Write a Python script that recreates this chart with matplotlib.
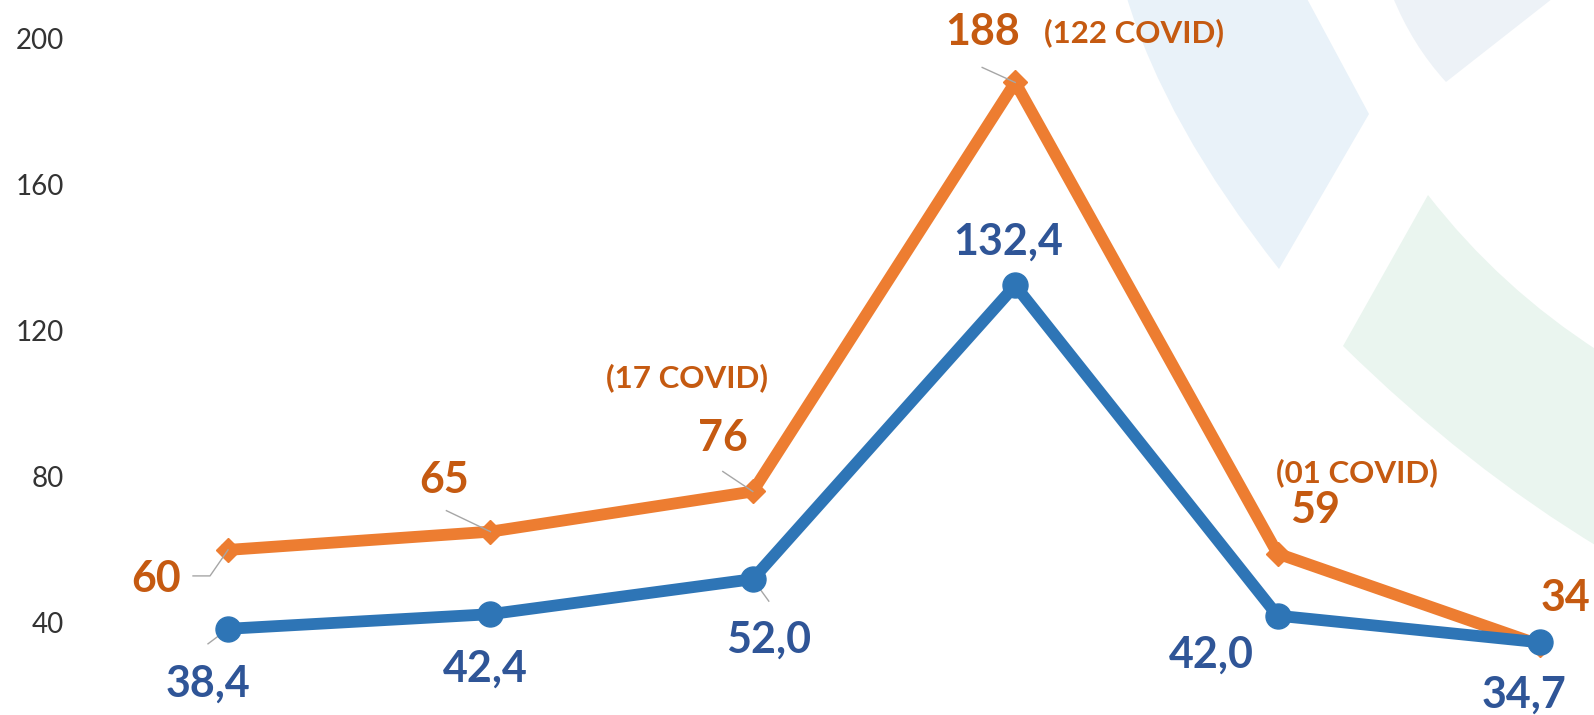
import matplotlib.pyplot as plt
from matplotlib.path import Path
from matplotlib.patches import PathPatch
from matplotlib.transforms import IdentityTransform

# values
categories = [0, 1, 2, 3, 4, 5]
total = [60, 65, 76, 188, 59, 34]
rate = [38.4, 42.4, 52.0, 132.4, 42.0, 34.7]
total_labels = ["60", "65", "76", "188", "59", "34"]
rate_labels = ["38,4", "42,4", "52,0", "132,4", "42,0", "34,7"]
covid_notes = {2: "(17 COVID)", 3: "(122 COVID)", 4: "(01 COVID)"}
yticks = [40, 80, 120, 160, 200]

orange = "#ED7D31"
orange_txt = "#C55A11"
blue = "#2E75B6"
blue_txt = "#2F5597"
leader = "#A6A6A6"

plt.rcParams['font.family'] = ['Lato', 'DejaVu Sans']

W, H = 1594, 715
fig = plt.figure(figsize=(W / 100, H / 100), dpi=100)
ax = fig.add_axes([0, 0, 1, 1])
ax.set_facecolor('none')
ax.set_xlim(-0.869, 5.206)
ax.set_ylim(14.8, 210.57)


def px(pts):
    return [(x / W, 1 - y / H) for x, y in pts]


# light background shapes (slide decoration)
shapes = [
    ([(1126, -5), (1165, 125), (1279, 269), (1369, 114), (1305, -5), (1126, -5)],
     [Path.MOVETO, Path.CURVE3, Path.CURVE3, Path.LINETO, Path.LINETO, Path.CLOSEPOLY],
     "#E9F2F9"),
    ([(1392, -5), (1412, 45), (1446, 82), (1557, -5), (1392, -5)],
     [Path.MOVETO, Path.CURVE3, Path.CURVE3, Path.LINETO, Path.CLOSEPOLY],
     "#EDF2F7"),
    ([(1428, 195), (1343, 346), (1466, 467), (1600, 548), (1600, 352),
      (1500, 288), (1428, 195), (1428, 195)],
     [Path.MOVETO, Path.LINETO, Path.CURVE3, Path.CURVE3, Path.LINETO,
      Path.CURVE3, Path.CURVE3, Path.CLOSEPOLY],
     "#EAF5EF"),
]
for verts, codes, col in shapes:
    ax.add_patch(PathPatch(Path(px(verts), codes), transform=fig.transFigure,
                           facecolor=col, edgecolor='none', zorder=0))

ax.plot(categories, total, color=orange, lw=8.5, marker='D', ms=12,
        zorder=3)
ax.plot(categories, rate, color=blue, lw=8.5, marker='o', ms=18, zorder=4)

ax.set_yticks(yticks)
ax.set_yticklabels([str(t) for t in yticks])
ax.set_xticks([])
ax.tick_params(axis='y', length=0, pad=-46, labelsize=20, labelcolor='#333333')
for s in ax.spines.values():
    s.set_visible(False)

# label offsets in pixels (dx, dy to baseline centre)
total_off = [(-72, -42), (-46, 39), (-30, 40), (-33, 37), (38, 31), (26, 34)]
rate_off = [(-20, -68), (-5, -67), (16, -74), (-7, 31), (-66, -52), (-16, -65)]
note_off = {2: (-66, 104), 3: (119, 40), 4: (79, 71)}

for i in categories:
    ax.annotate(total_labels[i], (i, total[i]), xytext=total_off[i],
                textcoords='offset pixels', ha='center', va='baseline',
                fontsize=31, fontweight='bold', color=orange_txt, zorder=5)
    ax.annotate(rate_labels[i], (i, rate[i]), xytext=rate_off[i],
                textcoords='offset pixels', ha='center', va='baseline',
                fontsize=31, fontweight='bold', color=blue_txt, zorder=5)
for i, note in covid_notes.items():
    ax.annotate(note, (i, total[i]), xytext=note_off[i],
                textcoords='offset pixels', ha='center', va='baseline',
                fontsize=22.5, fontweight='bold', color=orange_txt, zorder=5)

# leader lines from labels to points (offsets in pixels from the point)
leaders = [
    (0, total, [(-35, -26), (-18, -26), (0, 0)]),
    (1, total, [(-44, 21), (0, 0)]),
    (2, total, [(-30, 20), (0, 0)]),
    (3, total, [(-33, 15), (0, 0)]),
    (0, rate, [(-20, -15), (0, 0)]),
    (2, rate, [(16, -22), (0, 0)]),
]
for i, series, pts in leaders:
    x0, y0 = ax.transData.transform((i, series[i]))
    ax.plot([x0 + dx for dx, dy in pts], [y0 + dy for dx, dy in pts],
            color=leader, lw=1, transform=IdentityTransform(), zorder=3.5)

plt.savefig('out.png', dpi=100)
